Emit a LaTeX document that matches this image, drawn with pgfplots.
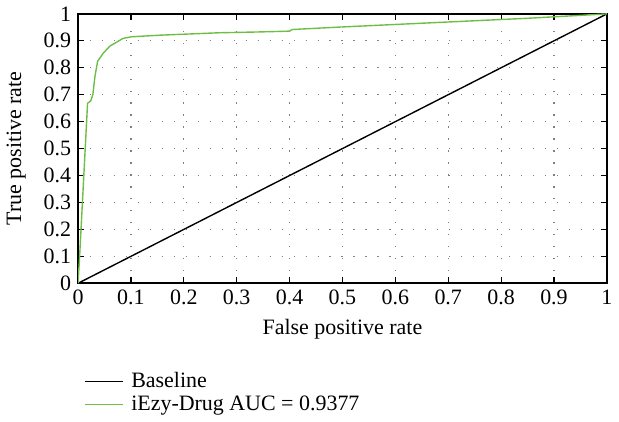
\documentclass[border=0pt]{standalone}
\usepackage{pgfplots}
\pgfplotsset{compat=1.18}
\usepackage{fontspec}
\setmainfont{Liberation Serif}
\definecolor{rocgreen}{RGB}{110,190,70}
\begin{document}
\begin{tikzpicture}
\begin{axis}[
    width=265pt, height=135pt,
    scale only axis,
    xmin=0, xmax=1, ymin=0, ymax=1,
    xtick={0,0.1,...,1}, ytick={0,0.1,...,1},
    /pgf/number format/assume math mode=true,
    tick label style={font=\fontsize{11}{13}\selectfont},
    label style={font=\fontsize{11}{13}\selectfont},
    ylabel style={yshift=2pt},
    tick align=inside,
    major tick length=3pt,
    axis line style={line width=0.8pt},
    every tick/.style={black, line width=0.6pt},
    grid=major,
    major grid style={gray, dash pattern=on 0.6pt off 5.4pt, line width=0.6pt},
    xlabel={False positive rate},
    ylabel={True positive rate},
    legend style={draw=none, fill=none, at={(0,-0.3)}, anchor=north west,
                  font=\fontsize{11}{13}\selectfont, row sep=-1.5pt,
                  nodes={inner xsep=4pt}},
    legend cell align=left,
    legend image post style={xscale=1.1},
]
\addplot[black, line width=0.7pt] coordinates {(0,0) (1,1)};
\addplot[rocgreen, line width=0.7pt] coordinates {
    (0,0) (0.003,0.1) (0.018,0.668) (0.024,0.677) (0.028,0.70)
    (0.032,0.768) (0.037,0.824) (0.048,0.855) (0.060,0.880)
    (0.085,0.909) (0.101,0.915) (0.155,0.921) (0.268,0.930)
    (0.343,0.933) (0.400,0.936) (0.405,0.942) (0.494,0.951)
    (0.853,0.984) (1,1)
};
\legend{Baseline, iEzy-Drug AUC = 0.9377}
\end{axis}
\end{tikzpicture}
\end{document}
